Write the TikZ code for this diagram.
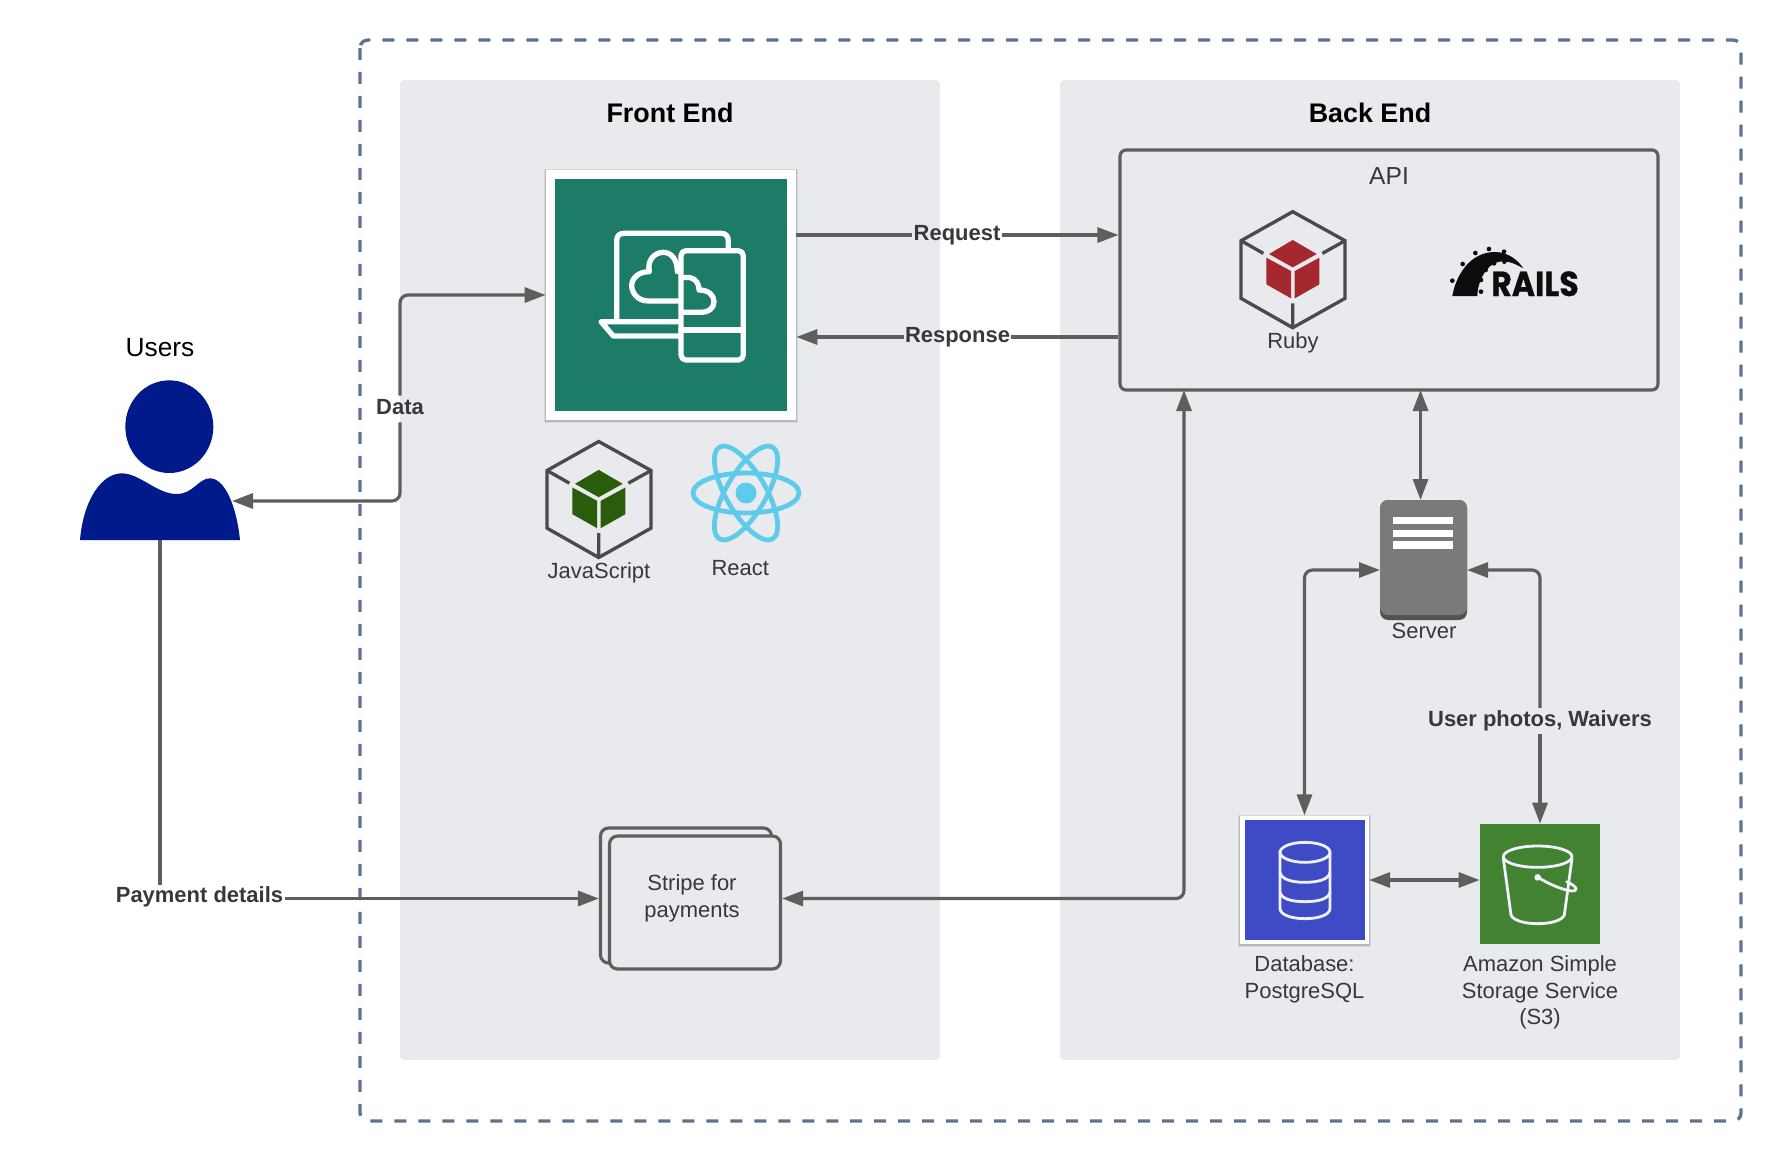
\documentclass[tikz,border=0pt]{standalone}
\usepackage{fontspec}
\setmainfont{Liberation Sans}
\newfontfamily\railsfont[BoldFeatures={FakeBold=0.8}]{Poppins}
\usetikzlibrary{arrows.meta,shadows,calc}
\definecolor{panelc}{HTML}{E9EAEE}
\definecolor{linec}{HTML}{5E5E5E}
\definecolor{dashc}{HTML}{5F7391}
\definecolor{txtc}{HTML}{37383C}
\definecolor{tealc}{HTML}{1D7C68}
\definecolor{hexc}{HTML}{4A4A4E}
\definecolor{rubyc}{HTML}{A4282E}
\definecolor{jsc}{HTML}{2A5D0B}
\definecolor{reactc}{HTML}{5FCBEA}
\definecolor{userc}{HTML}{001A8C}
\definecolor{blueb}{HTML}{3F4BC4}
\definecolor{greenb}{HTML}{428230}
\definecolor{railc}{HTML}{0D0D0F}
\tikzset{
  >={Triangle[length=.42cm,width=.3cm]},
  panel/.style={fill=panelc,rounded corners=.08cm,inner sep=0pt},
  conn/.style={draw=linec,line width=1.8pt,rounded corners=.16cm},
  box/.style={draw=linec,line width=1.8pt,rounded corners=.12cm,inner sep=0pt},
  lab/.style={font=\fontsize{12.5}{15}\selectfont\bfseries,text=txtc,text height=9.1pt,text depth=3.4pt,inner ysep=1.1pt,inner xsep=.6pt},
  txt/.style={font=\fontsize{12.5}{15.1}\selectfont,text=txtc,inner sep=0pt,align=center},
  title/.style={font=\fontsize{15.3}{18}\selectfont\bfseries,text=black,inner sep=0pt,anchor=base},
  whitetile/.style 2 args={fill=white,inner sep=0pt,
    drop shadow={shadow xshift=0pt,shadow yshift=-.6pt,fill=black,opacity=.08,shadow scale=#1},
    drop shadow={shadow xshift=0pt,shadow yshift=-.6pt,fill=black,opacity=.14,shadow scale=#2}},
  iconw/.style={draw=white,line width=3pt,line join=round,line cap=round},
  iconx/.style={draw=white!94!blue,line width=1.6pt,line join=round,line cap=round},
}
\newcommand{\cubeicon}[3]{%
  \begin{scope}[shift={(#1,#2)},x=0.006667cm,y=-0.006667cm]
    \draw[hexc,line width=1.9pt,line join=miter] (0,0)--(157,87)--(157,260)--(0,348)--(-155,260)--(-155,87)--cycle;
    \draw[hexc,line width=1.9pt] (-155,87)--(-88,125) (157,87)--(89,125) (0,348)--(0,275);
    \fill[#3] (0,85)--(72,127)--(0,167)--(-71,127)--cycle;
    \fill[#3] (-79,138)--(-5,178)--(-5,260)--(-79,218)--cycle;
    \fill[#3] (80,138)--(6,178)--(6,260)--(80,218)--cycle;
  \end{scope}}
\begin{document}
\begin{tikzpicture}[x=0.02cm,y=-0.02cm]
\useasboundingbox (0,0) rectangle (1780,1160);
% frame and panels
\draw[dashc,line width=1.9pt,dash pattern=on 0.24cm off 0.24cm,rounded corners=.16cm] (360,40) rectangle (1741,1121);
\node[panel,minimum width=10.8cm,minimum height=19.6cm] (front) at (670,570) {};
\node[panel,minimum width=12.4cm,minimum height=19.6cm] (back) at (1370,570) {};
\node[title] (fronttitle) at (670,122) {Front End};
\node[title] (backtitle) at (1370,122) {Back End};
% web tile
\node[whitetile={1.016}{1.008},minimum size=5cm] (tile) at (671,295) {};
\node[fill=tealc,inner sep=0pt,minimum size=4.64cm] (tileinner) at (671,295) {};
\begin{scope}[shift={(520,150)},x=0.006667cm,y=-0.006667cm]
  \draw[iconw] (290,510)--(290,272) .. controls (290,258) and (298,250) .. (312,250)--(603,250) .. controls (617,250) and (625,258) .. (625,272)--(625,296);
  \draw[iconw] (475,515)--(243,515)--(280,558)--(475,558);
  \draw[iconw,rounded corners=.1cm] (483,302) rectangle (670,630);
  \draw[iconw] (483,540)--(670,540);
  \draw[iconw] (475,453)--(385,453) .. controls (350,453) and (335,425) .. (335,407) .. controls (335,385) and (355,365) .. (388,365) .. controls (380,330) and (405,307) .. (430,307) .. controls (455,307) and (472,330) .. (472,365);
  \draw[iconw] (491,383) .. controls (520,378) and (537,395) .. (537,420) .. controls (565,420) and (582,435) .. (582,455) .. controls (582,475) and (565,487) .. (545,487)--(491,487);
\end{scope}
% JS and React
\cubeicon{598.7}{441.5}{jsc}
\node[txt,anchor=base] (js) at (599,578) {JavaScript};
\begin{scope}[shift={(746,493)}]
  \foreach \a in {0,60,120}
    \draw[reactc,line width=2.7pt,rotate=\a] (0,0) ellipse [x radius=53,y radius=20];
  \fill[reactc] (0,0) circle [radius=10.5];
\end{scope}
\node[txt,anchor=base] (react) at (740.3,575.7) {React};
% API
\node[box,minimum width=10.76cm,minimum height=4.8cm] (api) at (1389,270) {};
\node[inner sep=0pt,anchor=base,font=\fontsize{14}{16}\selectfont,text=txtc] (apitext) at (1389,184) {API};
\cubeicon{1292.7}{211.7}{rubyc}
\node[txt,anchor=base] (ruby) at (1293,348) {Ruby};
\begin{scope}[shift={(1220,190)},x=0.006667cm,y=-0.006667cm]
  \fill[railc] (697,318) .. controls (708,255) and (750,186) .. (825,186) .. controls (865,186) and (895,212) .. (910,235) .. controls (880,218) and (850,205) .. (820,222) .. controls (790,238) and (772,285) .. (772,318) --cycle;
  \foreach \p/\q in {697/272,728/222,766/189,807/177,852/185,822/220,853/215,797/240,783/270,783/305}
    \fill[railc] (\p,\q) circle [radius=7];
\end{scope}
\node[inner sep=0pt,anchor=base,text=railc,font=\railsfont\bfseries\fontsize{19.7}{22}\selectfont] (rails) at (1535,296) {\scalebox{0.91}[1]{RAILS}};
% Users
\node[inner sep=0pt,anchor=base,font=\fontsize{15}{18}\selectfont,text=black] (userstext) at (160,356) {Users};
\node[inner sep=0pt,minimum size=3.2cm] (user) at (160,460) {};
\begin{scope}[shift={(60,320)},x=0.006667cm,y=-0.006667cm]
  \fill[userc] (328,320) ellipse [x radius=132,y radius=139];
  \fill[userc] (60,660) .. controls (70,540) and (125,460) .. (185,460) .. controls (240,460) and (290,522) .. (350,522) .. controls (400,522) and (415,475) .. (450,475) .. controls (495,475) and (530,560) .. (540,660) --cycle;
\end{scope}
\coordinate (userin) at (232,501);
% Stripe
\node[box,rounded corners=.16cm,minimum width=3.42cm,minimum height=2.7cm] (stripeback) at (686,895.5) {};
\node[box,rounded corners=.16cm,fill=panelc,minimum width=3.42cm,minimum height=2.66cm] (stripe) at (695,902.5) {};
\node[txt] (stripetext) at (692,898.3) {Stripe for\\payments};
% Server
\node[fill=black!68,rounded corners=.16cm,inner sep=0pt,minimum width=1.74cm,minimum height=2.4cm] (server) at (1423.5,560) {};
\fill[black!52,rounded corners=.16cm] (1380,515) rectangle (1467,615);
\fill[black!52,rounded corners=.16cm] (1380,500) rectangle (1467,560);
\fill[white] (1393.3,516.7) rectangle (1453.3,524);
\fill[white] (1393.3,529.7) rectangle (1453.3,536.7);
\fill[white] (1393.3,541) rectangle (1453.3,548.7);
\node[txt,anchor=base] (servertext) at (1424,638.7) {Server};
\coordinate (srvW) at (1380,570);
\coordinate (srvE) at (1467,570);
\coordinate (srvN) at (1420.5,500);
\coordinate (apiS) at (1420.5,390);
\coordinate (apiB) at (1184,390);
% DB
\node[whitetile={1.03}{1.015},minimum size=2.57cm] (db) at (1304.5,880) {};
\node[fill=blueb,inner sep=0pt,minimum size=2.4cm] (dbinner) at (1305,880) {};
\node[fill=greenb,inner sep=0pt,minimum size=2.4cm] (s3) at (1540,884) {};
\begin{scope}[shift={(1220,800)},x=0.006667cm,y=-0.006667cm]
  \draw[iconx] (255,157) ellipse [x radius=75,y radius=30];
  \draw[iconx] (180,157)--(180,325) .. controls (180,345) and (215,356) .. (255,356) .. controls (295,356) and (330,345) .. (330,325)--(330,157);
  \draw[iconx] (180,218) .. controls (185,238) and (215,247) .. (255,247) .. controls (295,247) and (325,238) .. (330,218);
  \draw[iconx] (180,277) .. controls (185,297) and (215,305) .. (255,305) .. controls (295,305) and (325,297) .. (330,277);
  \draw[iconx] (953,170) ellipse [x radius=103,y radius=32];
  \draw[iconx] (850,175)--(873,345) .. controls (880,362) and (915,371) .. (953,371) .. controls (991,371) and (1026,362) .. (1033,345)--(1056,175);
  \draw[iconx] (953,232) .. controls (985,250) and (1020,268) .. (1055,273) .. controls (1072,275) and (1078,262) .. (1040,245);
  \fill[white!94!blue] (953,232) circle [radius=10];
\end{scope}
\node[txt] (dbtext) at (1304.5,979.3) {Database:\\PostgreSQL};
\node[txt] (s3text) at (1540,992.3) {Amazon Simple\\Storage Service\\(S3)};
% labels
\node[lab] (req) at (957,235) {Request};
\node[lab] (resp) at (957.5,337) {Response};
\node[lab] (data) at (400,409) {Data};
\node[lab,text height=8.6pt,text depth=4.4pt] (pay) at (199.5,898.5) {Payment details};
\node[lab] (photos) at (1540,721) {User photos, Waivers};
% connectors
\draw[conn] (tile.east |- req) -- (req.west);
\draw[conn,->] (req.east) -- (api.west |- req);
\draw[conn] (api.west |- resp) -- (resp.east);
\draw[conn,->] (resp.west) -- (tile.east |- resp);
\draw[conn,<-] (userin) -| (data.south);
\draw[conn,->] (data.north) |- (tile.west);
\draw[conn] (user.south) -- (pay.north -| user.south);
\draw[conn,->] (pay.east) -- (stripeback.west |- pay);
\draw[conn,<->] (stripe.east |- pay) -| (apiB);
\draw[conn,<->] (apiS) -- (srvN);
\draw[conn,<->] (srvW) -| (db.north);
\draw[conn,<-] (srvE) -| (photos.north);
\draw[conn,->] (photos.south) -- (s3.north);
\draw[conn,<->] (db.east) -- (s3.west |- db);
\end{tikzpicture}
\end{document}
